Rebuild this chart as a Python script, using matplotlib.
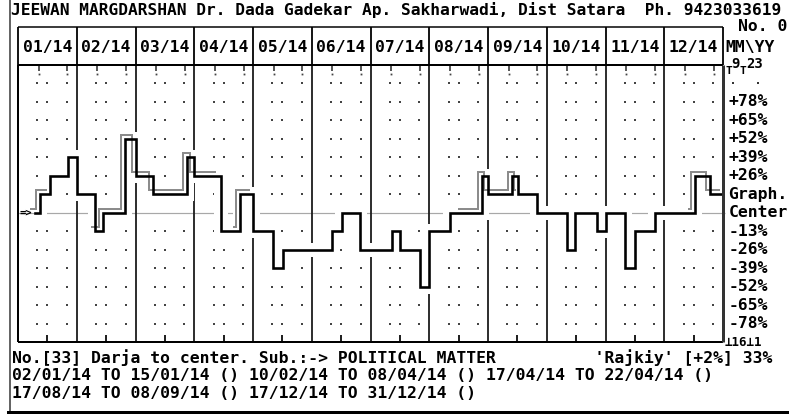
import matplotlib
matplotlib.use("Agg")
import matplotlib.pyplot as plt
from matplotlib import transforms
import numpy as np

W, H, DPI = 789, 419, 100
PT = 72.0 / DPI  # one pixel in points

# ── Data ─────────────────────────────────────────────────────────────
months = ["01/14", "02/14", "03/14", "04/14", "05/14", "06/14",
          "07/14", "08/14", "09/14", "10/14", "11/14", "12/14"]

# step changes: position in months from 01/01/14, level (1 level = 13 %)
step_x = [0.29, 0.37, 0.54, 0.85, 1.00, 1.31, 1.45, 1.82, 2.00, 2.30,
          2.88, 3.00, 3.46, 3.78, 4.00, 4.34, 4.51, 5.34, 5.51, 5.82,
          6.37, 6.50, 6.84, 7.00, 7.35, 7.90, 8.00, 8.41, 8.51, 8.83,
          9.34, 9.48, 9.86, 10.00, 10.33, 10.50, 10.84, 11.52, 11.78]
step_level = [0, 1, 2, 3, 1, -1, 0, 4, 2, 1,
              3, 2, -1, 1, -1, -3, -2, -1, 0, -2,
              -1, -2, -4, -1, 0, 2, 1, 2, 1, 0,
              -2, 0, -1, 0, -3, -1, 0, 2, 1]
end_x = 12.0

# periods drawn with the double line
highlight_start = [0.29, 1.32, 3.74, 7.57, 11.49]
highlight_end = [0.54, 3.42, 4.00, 8.53, 12.00]

right_levels = [6, 5, 4, 3, 2, 1, 0, -1, -2, -3, -4, -5, -6]
right_labels = ["+78%", "+65%", "+52%", "+39%", "+26%", "Graph.", "Center",
                "-13%", "-26%", "-39%", "-52%", "-65%", "-78%"]

dot_levels = [7, 6, 5, 4, 3, 2, 1, -1, -2, -3, -4, -5, -6]
dot_offsets = [0.33, 0.50, 0.83]

title = ("JEEWAN MARGDARSHAN Dr. Dada Gadekar Ap. Sakharwadi, "
         "Dist Satara  Ph. 9423033619")
footer = [
    "No.[33] Darja to center. Sub.:-> POLITICAL MATTER          "
    "'Rajkiy' [+2%] 33%",
    "02/01/14 TO 15/01/14 () 10/02/14 TO 08/04/14 () 17/04/14 TO 22/04/14 ()",
    "17/08/14 TO 08/09/14 () 17/12/14 TO 31/12/14 ()",
]

MONO = ["DejaVu Sans Mono", "DejaVu Sans"]
FS = 11.8


def fx(px):
    return px / W


def fy(py):
    return 1 - py / H


def step_part(a, b):
    xs = [a] + [x for x in step_x if a < x < b]
    ys = [step_level[np.searchsorted(step_x, x, side="right") - 1] for x in xs]
    return xs + [b], ys + [ys[-1]]


fig = plt.figure(figsize=(W / DPI, H / DPI), dpi=DPI)
fig.patch.set_facecolor("white")

# ── Main plot area ───────────────────────────────────────────────────
ax = fig.add_axes([fx(18), fy(342), (723 - 18) / W, (342 - 65) / H])
ax.set_xlim(0, 12)
ax.set_ylim(-7, 8)
ax.axis("off")

# grid: centre line, month lines, dots, ticks
ax.hlines(0, 0, 12.03, color="#a8a8a8", lw=1.2 * PT, zorder=1, clip_on=False)
ax.vlines(np.arange(1, 12), -7, 8, color="#1a1a1a", lw=1.8 * PT, zorder=1)
dx = np.add.outer(np.arange(12), dot_offsets).ravel()
DX, DY = np.meshgrid(dx, dot_levels)
ax.plot(DX.ravel(), DY.ravel(), "s", ms=2 * PT, mew=0, color="#444444",
        zorder=1)
top_ticks = np.add.outer(np.arange(12), [0.35, 0.84]).ravel()
ax.vlines(top_ticks, 7.65, 8, color="#222222", lw=1.5 * PT, zorder=1)
ax.plot(top_ticks, np.full(top_ticks.shape, 7.5), "s", ms=1.8 * PT, mew=0,
        color="#444444", zorder=1)
ax.vlines(np.arange(12) + 0.5, -7, -6.6, color="#222222", lw=2 * PT, zorder=1)

# borders of the plot
ax.hlines([-7, 8], 0, 12, color="black", lw=2 * PT, zorder=6, clip_on=False)
ax.vlines(0, -7, 8, color="black", lw=2 * PT, zorder=6, clip_on=False)
ax.vlines(12, -7, 8, color="#333333", lw=3 * PT, zorder=6, clip_on=False)

# the curve: white halo, grey shadow line on highlighted periods, black line
cx, cy = step_part(step_x[0], end_x)
ax.step(cx, cy, where="post", color="white", lw=14 * PT, zorder=3,
        solid_joinstyle="miter", solid_capstyle="butt")
shift = transforms.offset_copy(ax.transData, fig=fig, x=-4, y=4, units="dots")
for a, b in zip(highlight_start, highlight_end):
    hx, hy = step_part(a, b)
    ax.step(hx, hy, where="post", color="#8c8c8c", lw=2 * PT, zorder=4,
            transform=shift, solid_joinstyle="miter")
ax.step(cx, cy, where="post", color="black", lw=2.6 * PT, zorder=5,
        solid_joinstyle="miter")
ax.text(0.02, 0, "=>", fontsize=7.5, family=MONO, fontweight="bold",
        va="center", ha="left", zorder=6)

# right hand scale
for lvl, lab in zip(right_levels, right_labels):
    ax.text(12.09, lvl, lab, fontsize=FS, family=MONO, fontweight="bold",
            va="center", ha="left", clip_on=False)
ax.plot([12.17, 12.6], [7, 7], "s", ms=2 * PT, mew=0, color="#333333",
        clip_on=False)

# ── Month header ─────────────────────────────────────────────────────
hx_ax = fig.add_axes([fx(18), fy(65), (723 - 18) / W, (65 - 27) / H])
hx_ax.set_xlim(0, 12)
hx_ax.set_ylim(0, 1)
hx_ax.axis("off")
hx_ax.vlines(np.arange(13), 0, 1, color="black", lw=1.8 * PT, clip_on=False)
hx_ax.hlines(1, 0, 12, color="black", lw=1.5 * PT, clip_on=False)
for i, m in enumerate(months):
    hx_ax.text(i + 0.5, 0.47, m, fontsize=FS, family=MONO, fontweight="bold",
               ha="center", va="center")

# ── Texts around the chart ───────────────────────────────────────────
fig.text(fx(11), fy(15), title, fontsize=11.7, family=MONO, fontweight="bold",
         ha="left", va="baseline")
fig.text(fx(738), fy(31), "No. 0", fontsize=FS, family=MONO,
         fontweight="bold", ha="left", va="baseline")
fig.text(fx(725), fy(52), "MM\\YY", fontsize=FS, family=MONO,
         fontweight="bold", ha="left", va="baseline")
fig.text(fx(725), fy(74), "T", fontsize=8, family=MONO, fontweight="bold",
         ha="left", va="baseline")
fig.text(fx(731), fy(68), "9", fontsize=10, family=MONO, fontweight="bold",
         ha="left", va="baseline")
fig.text(fx(740), fy(74), "T", fontsize=8, family=MONO, fontweight="bold",
         ha="left", va="baseline")
fig.text(fx(746), fy(68), "23", fontsize=10, family=MONO, fontweight="bold",
         ha="left", va="baseline")
fig.text(fx(725), fy(346), "\u22a516\u22a51", fontsize=9, family=MONO,
         fontweight="bold", ha="left", va="baseline")
for line, base in zip(footer, [363, 380, 398]):
    fig.text(fx(12), fy(base), line, fontsize=FS, family=MONO,
             fontweight="bold", ha="left", va="baseline")

# outer frame
fig.add_artist(plt.Line2D([fx(10), fx(10)], [fy(0), fy(412)], color="#333333",
                          lw=1.5 * PT))
fig.add_artist(plt.Line2D([fx(8), fx(789)], [fy(412), fy(412)], color="black",
                          lw=3 * PT))

fig.savefig("out.png", dpi=DPI, facecolor="white")
